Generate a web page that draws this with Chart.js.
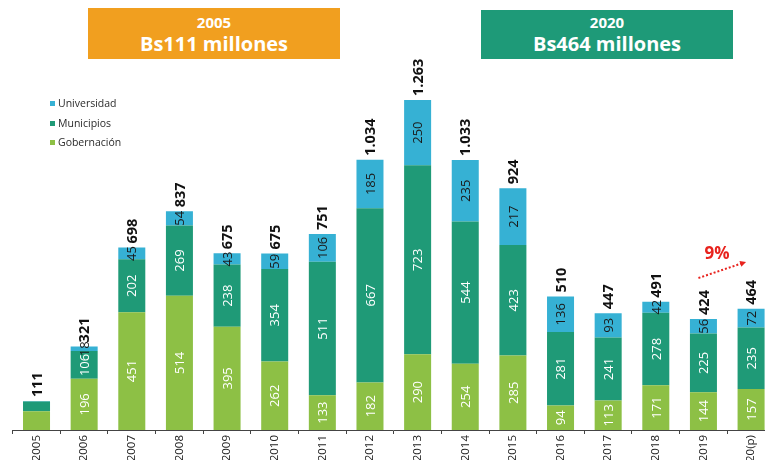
<!DOCTYPE html>
<html>
<head>
<meta charset="utf-8">
<script src="https://cdn.jsdelivr.net/npm/chart.js@4.4.1/dist/chart.umd.min.js"></script>
<style>
  html, body { margin: 0; padding: 0; background: #fff; }
  #wrap { position: relative; width: 765px; height: 460px; overflow: hidden; font-family: "Open Sans", sans-serif; }
  #c { position: absolute; left: 0; top: 0; }
  .box { position: absolute; color: #fff; text-align: center; font-weight: 700; }
  .box .y { font-size: 15px; line-height: 18px; margin-top: 5px; }
  .box .t { font-size: 20px; line-height: 26px; }
  #legend { position: absolute; left: 50px; top: 94px; font-size: 10.5px; color: #2a2a2a; }
  #legend div { height: 19.5px; line-height: 19px; white-space: nowrap; }
  #legend span.sw { display: inline-block; width: 5px; height: 5px; margin-right: 3px; vertical-align: 1px; }
  #pct { position: absolute; left: 700px; top: 241px; width: 34px; text-align: center; color: #e8231e; font-weight: 700; font-size: 17px; }
</style>
</head>
<body>
<div id="wrap">
  <canvas id="c" width="776" height="480"></canvas>
  <div class="box" style="left:88px;top:8px;width:252px;height:51px;background:#f19f1f;">
    <div class="y">2005</div><div class="t">Bs111 millones</div>
  </div>
  <div class="box" style="left:481px;top:10px;width:252px;height:49px;background:#1e9a78;">
    <div class="y" style="margin-top:3px">2020</div><div class="t">Bs464 millones</div>
  </div>
  <div id="legend">
    <div><span class="sw" style="background:#36b1d4"></span>Universidad</div>
    <div><span class="sw" style="background:#1f9a77"></span>Municipios</div>
    <div><span class="sw" style="background:#8dc045"></span>Gobernación</div>
  </div>
  <div id="pct">9%</div>
</div>
<script>
const years = ["2005","2006","2007","2008","2009","2010","2011","2012","2013","2014","2015","2016","2017","2018","2019","2020(p)"];
const gobernacion = [72, 196, 451, 514, 395, 262, 133, 182, 290, 254, 285, 94, 113, 171, 144, 157];
const municipios  = [37, 106, 202, 269, 238, 354, 511, 667, 723, 544, 423, 281, 241, 278, 225, 235];
const universidad = [2, 18, 45, 54, 43, 59, 106, 185, 250, 235, 217, 136, 93, 42, 56, 72];
const totals = ["111","321","698","837","675","675","751","1.034","1.263","1.033","924","510","447","491","424","464"];
const showSegmentLabels = [false, true, true, true, true, true, true, true, true, true, true, true, true, true, true, true];

const labelPlugin = {
  id: 'labels',
  afterDatasetsDraw(chart) {
    const ctx = chart.ctx;
    const metas = chart.data.datasets.map((d, i) => chart.getDatasetMeta(i));
    ctx.save();
    metas.forEach((meta, di) => {
      const ds = chart.data.datasets[di];
      meta.data.forEach((bar, i) => {
        if (!showSegmentLabels[i]) return;
        const cy = (bar.y + bar.base) / 2;
        ctx.save();
        ctx.translate(bar.x, cy);
        ctx.rotate(-Math.PI / 2);
        ctx.font = '13px "Open Sans", sans-serif';
        ctx.fillStyle = ds.labelColor;
        ctx.textAlign = 'center';
        ctx.textBaseline = 'middle';
        ctx.fillText(String(ds.data[i]), 0, 1);
        ctx.restore();
      });
    });
    const top = metas[metas.length - 1];
    top.data.forEach((bar, i) => {
      ctx.save();
      ctx.translate(bar.x, bar.y - 4);
      ctx.rotate(-Math.PI / 2);
      ctx.font = 'bold 14.5px "Open Sans", sans-serif';
      ctx.fillStyle = '#111';
      ctx.textAlign = 'left';
      ctx.textBaseline = 'middle';
      ctx.fillText(totals[i], 0, 1);
      ctx.restore();
    });
    const n = top.data.length;
    const b1 = top.data[n - 2], b2 = top.data[n - 1];
    const x1 = b1.x - 5, y1 = 278, x2 = b2.x - 5, y2 = 262;
    ctx.strokeStyle = '#e8231e';
    ctx.fillStyle = '#e8231e';
    ctx.lineWidth = 2;
    ctx.setLineDash([2, 2]);
    ctx.beginPath();
    ctx.moveTo(x1, y1);
    ctx.lineTo(x2 - 5, y2 + 1.6);
    ctx.stroke();
    ctx.setLineDash([]);
    const ang = Math.atan2(y2 - y1, x2 - x1);
    ctx.beginPath();
    ctx.moveTo(x2, y2);
    ctx.lineTo(x2 - 6 * Math.cos(ang) + 3 * Math.sin(ang), y2 - 6 * Math.sin(ang) - 3 * Math.cos(ang));
    ctx.lineTo(x2 - 6 * Math.cos(ang) - 3 * Math.sin(ang), y2 - 6 * Math.sin(ang) + 3 * Math.cos(ang));
    ctx.closePath();
    ctx.fill();
    ctx.restore();
  }
};

new Chart(document.getElementById('c'), {
  type: 'bar',
  data: {
    labels: years,
    datasets: [
      { label: 'Gobernación', data: gobernacion, backgroundColor: '#8dc045', labelColor: '#ffffff' },
      { label: 'Municipios', data: municipios, backgroundColor: '#1f9a77', labelColor: '#ffffff' },
      { label: 'Universidad', data: universidad, backgroundColor: '#36b1d4', labelColor: '#1a1a1a' }
    ]
  },
  options: {
    responsive: false,
    animation: false,
    devicePixelRatio: 1,
    layout: { padding: { left: 12.7, right: 1.1, top: 11.9, bottom: 0 } },
    datasets: { bar: { categoryPercentage: 1, barPercentage: 0.567, borderWidth: 0 } },
    plugins: { legend: { display: false }, tooltip: { enabled: false } },
    scales: {
      x: {
        stacked: true,
        afterFit(scale) { scale.height = 50; },
        grid: { display: true, drawOnChartArea: false, drawTicks: true, tickLength: 4, color: '#444', offset: true },
        border: { display: true, color: '#444', width: 1 },
        ticks: {
          minRotation: 90, maxRotation: 90, autoSkip: false, padding: 1,
          color: '#222', font: { family: '"Open Sans", sans-serif', size: 11.5 }
        }
      },
      y: { stacked: true, display: false, min: 0, max: 1600 }
    }
  },
  plugins: [labelPlugin]
});
</script>
</body>
</html>
